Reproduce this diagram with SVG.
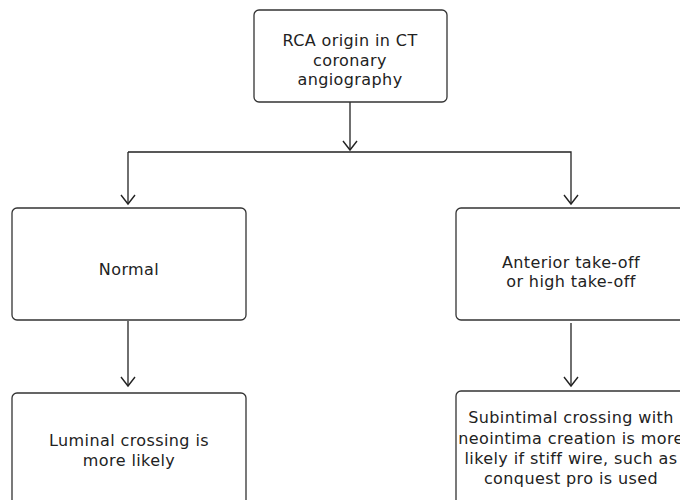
<svg xmlns="http://www.w3.org/2000/svg" width="680" height="500" viewBox="0 0 680 500">
<defs>
<marker id="arr" viewBox="0 0 16 16" refX="14" refY="8" markerWidth="16" markerHeight="16" markerUnits="userSpaceOnUse" orient="auto">
<path d="M5,1 L14,8 L5,15" fill="none" stroke="#222" stroke-width="1.4"/>
</marker>
<style>
.box{fill:#fff;stroke:#333;stroke-width:1.3}
.t{font-family:"DejaVu Sans",sans-serif;font-size:16px;letter-spacing:0.4px;fill:#222;text-anchor:middle}
.c{fill:none;stroke:#222;stroke-width:1.3}
</style>
</defs>
<rect width="680" height="500" fill="#fff"/>
<g id="connectors">
<path class="c" d="M350,102 V150" marker-end="url(#arr)"/>
<path class="c" d="M128,152 H571 V204" marker-end="url(#arr)"/>
<path class="c" d="M128,152 V204" marker-end="url(#arr)"/>
<path class="c" d="M128,321 V386" marker-end="url(#arr)"/>
<path class="c" d="M571,323 V386" marker-end="url(#arr)"/>
</g>
<g id="n-origin">
<rect class="box" x="254" y="10" width="193" height="92" rx="5"/>
<text class="t" x="350" y="46">RCA origin in CT</text>
<text class="t" x="350" y="66">coronary</text>
<text class="t" x="350" y="85">angiography</text>
</g>
<g id="n-normal">
<rect class="box" x="12" y="208" width="234" height="112" rx="5"/>
<text class="t" x="129" y="275">Normal</text>
</g>
<g id="n-anterior">
<rect class="box" x="456" y="208" width="234" height="112" rx="5"/>
<text class="t" x="571" y="268">Anterior take-off</text>
<text class="t" x="571" y="287">or high take-off</text>
</g>
<g id="n-luminal">
<rect class="box" x="12" y="393" width="234" height="120" rx="5"/>
<text class="t" x="129" y="446">Luminal crossing is</text>
<text class="t" x="129" y="466">more likely</text>
</g>
<g id="n-subintimal">
<rect class="box" x="456" y="391" width="234" height="120" rx="5"/>
<text class="t" x="571" y="423">Subintimal crossing with</text>
<text class="t" x="571" y="444">neointima creation is more</text>
<text class="t" x="571" y="464">likely if stiff wire, such as</text>
<text class="t" x="571" y="484">conquest pro is used</text>
</g>
</svg>
